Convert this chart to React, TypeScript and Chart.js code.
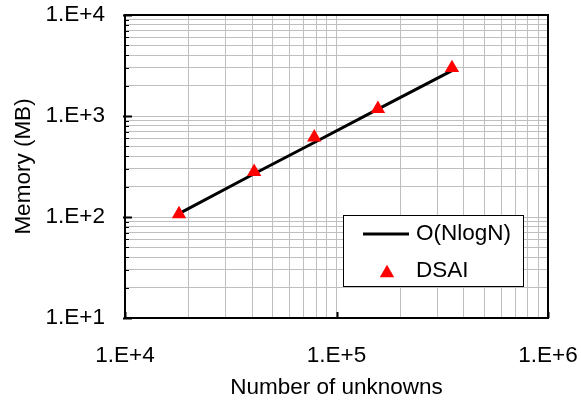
import React, { useEffect, useRef } from 'react';
import { Chart, registerables } from 'chart.js';

Chart.register(...registerables);

// ---- data ----
const X_VALUES = [18000, 40800, 78500, 157000, 351500];
const NLOGN_VALUES = [108, 268, 547, 1168, 2815];
const DSAI_VALUES = [107, 280, 615, 1180, 2990];
const SERIES_LABELS = ['O(NlogN)', 'DSAI'];
const X_TITLE = 'Number of unknowns';
const Y_TITLE = 'Memory (MB)';
const X_MIN = 1e4;
const X_MAX = 1e6;
const Y_MIN = 1e1;
const Y_MAX = 1e4;
const MULTIPLIERS = [1, 2, 3, 4, 5, 6, 7, 8, 9];
const X_DECADES = [4, 5];
const Y_DECADES = [1, 2, 3];

const buildTicks = (decades: number[], last: number) => [
  ...decades.flatMap((d) => MULTIPLIERS.map((m) => m * Math.pow(10, d))),
  Math.pow(10, last),
];
const X_TICKS = buildTicks(X_DECADES, 6);
const Y_TICKS = buildTicks(Y_DECADES, 4);

const FONT_FAMILY = '"Liberation Sans", Arial, sans-serif';
const FONT_SIZE = 22.5;
const GRID_COLOR = '#bfbfbf';

const isPow10 = (v: number) => {
  const e = Math.round(Math.log10(v));
  return Math.abs(v - Math.pow(10, e)) < 1e-6 * v;
};
const fmt = (v: number) => (isPow10(v) ? '1.E+' + Math.round(Math.log10(v)) : '');

const clearPadding = (scale: any) => {
  scale.paddingTop = 0;
  scale.paddingBottom = 0;
  scale.paddingLeft = 0;
  scale.paddingRight = 0;
};

const framePlugin = {
  id: 'frameTicks',
  beforeDatasetsDraw(chart: any) {
    const { ctx, chartArea: ca, scales } = chart;
    ctx.save();
    ctx.strokeStyle = '#000';
    // y ticks (inside)
    scales.y.ticks.forEach((t: any) => {
      const major = isPow10(t.value);
      const py = Math.round(scales.y.getPixelForValue(t.value)) + 0.5;
      ctx.lineWidth = major ? 2 : 1;
      ctx.beginPath();
      ctx.moveTo(ca.left - (major ? 2 : 0), py);
      ctx.lineTo(ca.left + (major ? 7 : 4), py);
      ctx.stroke();
    });
    // x major ticks (inside)
    scales.x.ticks.forEach((t: any) => {
      if (!isPow10(t.value)) return;
      const px = Math.round(scales.x.getPixelForValue(t.value)) + 0.5;
      ctx.lineWidth = 2;
      ctx.beginPath();
      ctx.moveTo(px, ca.bottom);
      ctx.lineTo(px, ca.bottom - 6);
      ctx.stroke();
    });
    // frame
    ctx.lineWidth = 2;
    ctx.strokeRect(ca.left, ca.top, ca.right - ca.left, ca.bottom - ca.top);
    ctx.restore();
  },
  afterDatasetsDraw(chart: any) {
    const { ctx, chartArea: ca } = chart;
    const ds = chart.data.datasets;
    const bw = 180;
    const bh = 71;
    const bx = Math.round(ca.right - 205);
    const by = Math.round(ca.bottom - 103);
    ctx.save();
    ctx.fillStyle = '#fff';
    ctx.fillRect(bx, by, bw, bh);
    ctx.strokeStyle = '#000';
    ctx.lineWidth = 1;
    ctx.strokeRect(bx + 0.5, by + 0.5, bw, bh);
    ctx.font = `${FONT_SIZE}px ${FONT_FAMILY}`;
    ctx.textBaseline = 'middle';
    ctx.textAlign = 'left';
    // row 1: line
    const y1 = by + 19;
    ctx.strokeStyle = ds[0].borderColor;
    ctx.lineWidth = ds[0].borderWidth;
    ctx.beginPath();
    ctx.moveTo(bx + 20, y1);
    ctx.lineTo(bx + 66, y1);
    ctx.stroke();
    ctx.fillStyle = '#000';
    ctx.fillText(ds[0].label, bx + 73, y1);
    // row 2: triangle
    const y2 = by + 55.5;
    const r = ds[1].pointRadius;
    const cx = bx + 44;
    const cy = y2 + 2.5;
    ctx.fillStyle = ds[1].backgroundColor;
    ctx.beginPath();
    for (let i = 0; i < 3; i++) {
      const a = (i * 2 * Math.PI) / 3;
      const px = cx + Math.sin(a) * r;
      const py = cy - Math.cos(a) * r;
      if (i === 0) ctx.moveTo(px, py);
      else ctx.lineTo(px, py);
    }
    ctx.closePath();
    ctx.fill();
    ctx.fillStyle = '#000';
    ctx.fillText(ds[1].label, bx + 73, y2);
    ctx.restore();
  },
};

export default function App() {
  const ref = useRef<HTMLCanvasElement | null>(null);
  useEffect(() => {
    if (!ref.current) return;
    const font = { family: FONT_FAMILY, size: FONT_SIZE };
    const chart = new Chart(ref.current, {
      type: 'scatter',
      data: {
        datasets: [
          {
            label: SERIES_LABELS[0],
            data: X_VALUES.map((x, i) => ({ x, y: NLOGN_VALUES[i] })),
            showLine: true,
            borderColor: '#000',
            backgroundColor: '#000',
            borderWidth: 3,
            pointRadius: 0,
            order: 2,
          },
          {
            label: SERIES_LABELS[1],
            data: X_VALUES.map((x, i) => ({ x, y: DSAI_VALUES[i] })),
            showLine: false,
            pointStyle: 'triangle',
            pointRadius: 8.3,
            borderWidth: 0,
            backgroundColor: '#ff0000',
            borderColor: '#ff0000',
            order: 1,
          },
        ],
      },
      options: {
        animation: false,
        responsive: false,
        devicePixelRatio: 1,
        layout: { padding: { left: 0, right: 33, top: 15, bottom: 0 } },
        plugins: { legend: { display: false }, tooltip: { enabled: false } },
        scales: {
          x: {
            type: 'logarithmic',
            min: X_MIN,
            max: X_MAX,
            afterBuildTicks: (scale: any) => {
              scale.ticks = X_TICKS.map((v) => ({ value: v, major: isPow10(v) }));
            },
            afterFit: (scale: any) => {
              scale.height = 85;
              clearPadding(scale);
            },
            ticks: {
              autoSkip: false,
              maxRotation: 0,
              padding: 24,
              color: '#000',
              font,
              callback: (v: any) => fmt(Number(v)),
            },
            grid: { color: GRID_COLOR, lineWidth: 1, drawTicks: false },
            border: { display: false },
            title: {
              display: true,
              text: X_TITLE,
              color: '#000',
              font,
              padding: { top: 0, bottom: 2 },
            },
          },
          y: {
            type: 'logarithmic',
            min: Y_MIN,
            max: Y_MAX,
            afterBuildTicks: (scale: any) => {
              scale.ticks = Y_TICKS.map((v) => ({ value: v, major: isPow10(v) }));
            },
            afterFit: (scale: any) => {
              scale.width = 125;
              clearPadding(scale);
            },
            ticks: {
              autoSkip: false,
              padding: 20,
              color: '#000',
              font,
              callback: (v: any) => fmt(Number(v)),
            },
            grid: { color: GRID_COLOR, lineWidth: 1, drawTicks: false },
            border: { display: false },
            title: {
              display: true,
              text: Y_TITLE,
              color: '#000',
              font,
              padding: { top: 10, bottom: 0 },
            },
          },
        },
      },
      plugins: [framePlugin],
    } as any);
    return () => chart.destroy();
  }, []);
  return (
    <div style={{ position: 'fixed', left: 0, top: 0, width: 581, height: 403, background: '#fff' }}>
      <canvas ref={ref} width={581} height={403} />
    </div>
  );
}
